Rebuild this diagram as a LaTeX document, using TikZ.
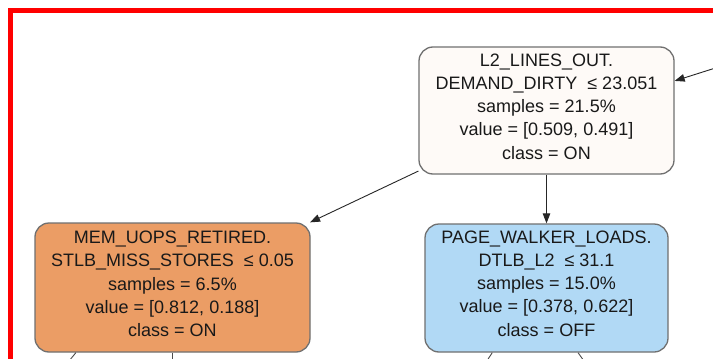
\documentclass[tikz,border=0pt]{standalone}
\usepackage{fontspec}
\setmainfont{Liberation Sans}
\usetikzlibrary{arrows.meta}
\definecolor{framered}{RGB}{255,0,0}
\definecolor{boxline}{RGB}{112,112,112}
\definecolor{onpale}{RGB}{254,250,247}
\definecolor{onfill}{RGB}{235,157,101}
\definecolor{offfill}{RGB}{177,217,245}
\begin{document}
\begin{tikzpicture}[x=1pt,y=-1pt,
  treebox/.style={draw=boxline, line width=1.3pt, rounded corners=14pt, inner sep=0pt},
  lbl/.style={align=center, font=\fontsize{18}{23.3}\selectfont, inner sep=0pt, text=black!90},
  arr/.style={draw=black!85, line width=0.9pt, -{Triangle[length=10pt,width=7.5pt]}},
  ln/.style={draw=black!70, line width=0.9pt}]
\useasboundingbox (0,0) rectangle (713,359);
\clip (0,0) rectangle (713,359);
\fill[white] (0,0) rectangle (713,359);
% red frame around the excerpt
\draw[framered, line width=5pt] (10.5,10.5) rectangle (725,361);

% tree nodes
\node[treebox, fill=onpale, minimum width=255pt, minimum height=127pt] (root) at (546.5,110.5) {};
\node[lbl] (roottxt) at (546.5,106.5) {L2\_LINES\_OUT.\\DEMAND\_DIRTY~~≤ 23.051\\samples = 21.5\%\\value = [0.509, 0.491]\\class = ON};

\node[treebox, fill=onfill, minimum width=275pt, minimum height=129pt] (left) at (172.5,287.5) {};
\node[lbl] (lefttxt) at (172.5,284) {MEM\_UOPS\_RETIRED.\\STLB\_MISS\_STORES~~≤ 0.05\\samples = 6.5\%\\value = [0.812, 0.188]\\class = ON};

\node[treebox, fill=offfill, minimum width=243pt, minimum height=128pt] (right) at (546.5,288) {};
\node[lbl] (righttxt) at (546.5,283.5) {PAGE\_WALKER\_LOADS.\\DTLB\_L2~~≤ 31.1\\samples = 15.0\%\\value = [0.378, 0.622]\\class = OFF};

% connectors leaving the visible area
\coordinate (parent) at (740,60.2);
\coordinate (leftA) at (60,372);
\coordinate (leftB) at (172.5,372);
\coordinate (rightA) at (479.7,372);
\coordinate (rightB) at (591.9,372);

\draw[arr] (parent) -- (root.13.45);
\draw[arr] (root) -- (left);
\draw[arr] (root) -- (right);
\draw[ln] (left.214.9) -- (leftA);
\draw[ln] (left.south) -- (leftB);
\draw[ln] (right.230.26) -- (rightA);
\draw[ln] (right.296.42) -- (rightB);
\end{tikzpicture}
\end{document}
